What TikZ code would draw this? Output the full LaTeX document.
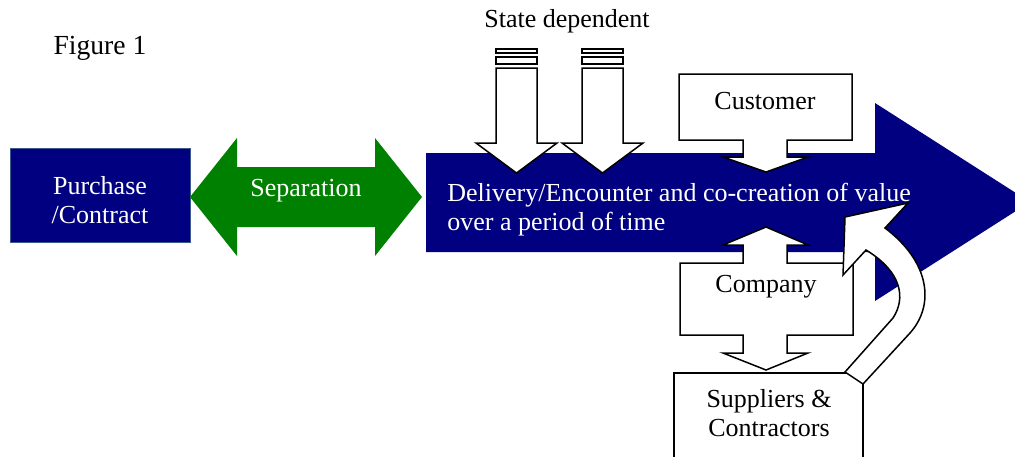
\documentclass[tikz,border=0pt]{standalone}
\usepackage{fontspec}
\setmainfont{Liberation Serif}
\usepackage{tikz}
\usetikzlibrary{positioning}
\definecolor{navy}{HTML}{000080}
\definecolor{leaf}{HTML}{008000}
\definecolor{edgeblue}{HTML}{3A5A8C}

\begin{document}
\begin{tikzpicture}[
    x=0.5pt, y=-0.5pt,
    outline/.style={draw=black, line width=0.75pt, fill=white, line join=miter},
    txt/.style={font=\fontsize{13}{14.5}\selectfont, align=center, inner sep=0pt},
    wtxt/.style={txt, text=white}
]
\useasboundingbox (0,0) rectangle (1015,456);
\clip (0,0) rectangle (1015,456);

% Title
\node[txt, font=\fontsize{13.8}{16}\selectfont] (fig) at (100,48) {Figure 1};

% Purchase / Contract
\draw[fill=navy, draw=edgeblue, line width=0.5pt] (10,148) rectangle (190,242);
\node[wtxt] (purchase) at (100,200) {Purchase\\/Contract};

% Separation
\fill[leaf] (190,197) -- (237,138) -- (237,167) -- (375,167) -- (375,138) -- (422,197)
    -- (375,256) -- (375,227) -- (237,227) -- (237,256) -- cycle;
\node[wtxt] (separation) at (306,191) {Separation};

% Delivery arrow
\fill[navy] (426,153) -- (875,153) -- (875,103) -- (1030,202) -- (875,301) -- (875,252)
    -- (426,252) -- cycle;
\node[wtxt, align=left, anchor=west] (delivery) at (447,209.5)
    {Delivery/Encounter and co-creation of value\\over a period of time};

% State dependent
\node[txt] (state) at (567,21) {State dependent};
\foreach \x in {496,582} {
  \draw[outline] (\x,49) rectangle (\x+41,53);
  \draw[outline] (\x,57) rectangle (\x+41,64);
  \draw[outline] (\x,68) -- (\x+41,68) -- (\x+41,143) -- (\x+61,143) -- (\x+20.5,173)
      -- (\x-20,143) -- (\x,143) -- cycle;
}

% Customer
\draw[outline] (679,74) -- (852,74) -- (852,140) -- (787,140) -- (787,157) -- (808,157)
    -- (766,172) -- (723,157) -- (743,157) -- (743,140) -- (679,140) -- cycle;
\node[txt] (customer) at (765,101.5) {Customer};

% Company
\draw[outline] (680,263) -- (743,263) -- (743,245) -- (723,245) -- (766,227) -- (808,245)
    -- (787,245) -- (787,263) -- (853,263) -- (853,335) -- (787,335) -- (787,353)
    -- (808,353) -- (766,370) -- (723,353) -- (743,353) -- (743,335) -- (680,335) -- cycle;
\node[txt] (company) at (766,287) {Company};

% Suppliers & Contractors
\draw[outline] (674,373) rectangle (863,480);
\node[txt] (suppliers) at (769,413) {Suppliers \&\\Contractors};

% Feedback arrow
\draw[outline] (845,372) -- (893,318) .. controls (906,298) and (902,272) .. (866,250)
    -- (843,275) -- (845,217) -- (908,203) -- (885,228)
    .. controls (930,262) and (935,305) .. (910,333) -- (863,384) -- cycle;

\end{tikzpicture}
\end{document}
